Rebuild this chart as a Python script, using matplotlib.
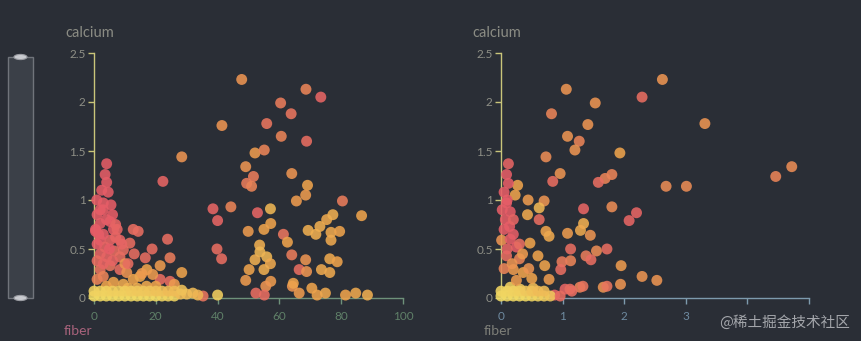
import matplotlib
matplotlib.use("Agg")
import matplotlib.pyplot as plt
from matplotlib.colors import LinearSegmentedColormap
from matplotlib.patches import Rectangle, Circle

# ---------------- data (fiber, calcium, colour tone 0=yellow .. 1=red) -------------
left_fiber = [
    47.8, 68.6, 73.4, 60.4, 63.8, 41.4, 55.9, 60.6, 68.8, 28.4, 52.1, 55.1, 49.1, 64.0,
    51.6, 49.4, 51.0, 69.1, 22.3, 68.5, 65.5, 80.4, 86.6, 38.5, 44.3, 57.1, 52.9, 40.0,
    57.2, 55.0, 49.9, 61.3, 62.6, 69.3, 73.1, 75.3, 77.3, 76.7, 79.5, 76.7, 71.8, 53.6,
    53.7, 55.9, 52.1, 57.1, 55.0, 50.2, 49.1, 64.0, 68.5, 76.3, 78.7, 66.4, 68.8, 73.6,
    76.3, 39.8, 41.3, 57.2, 55.6, 52.4, 55.1, 64.2, 66.4, 70.5, 72.2, 74.9, 81.4, 84.7,
    88.5, 40.0, 35.3, 64.5,
    4.1, 3.6, 4.1, 4.6, 0.9, 3.0, 3.0, 2.0, 5.2, 6.3, 2.0, 5.2, 8.4, 11.6, 12.7, 14.3,
    2.0, 4.1, 9.5, 8.4, 23.8, 18.8, 16.6, 24.6, 21.4, 17.1, 28.4, 2.0, 5.2, 8.4, 10.6,
    12.7, 14.9, 21.4, 24.6, 1.0, 6.3, 9.5, 1.0, 1.5, 3.5, 6.5, 1.0, 3.0, 17.0, 20.0,
    26.0, 4.0, 11.0, 14.0, 2.5, 7.0, 5.5, 0.5, 10.0,
    1.0, 3.0, 5.0, 7.0, 4.0, 6.0, 2.0, 0.5, 3.0, 6.0, 9.0, 13.0, 11.0, 7.5, 15.5, 19.0,
    0.0, 2.0, 4.0, 6.0, 8.0, 10.0, 12.0, 14.0, 16.0, 18.0, 20.0, 22.0, 24.0, 26.0,
    0.0, 2.0, 4.0, 6.0, 8.0, 10.0, 12.0, 14.0, 16.0, 18.0, 20.0, 22.0, 24.0, 26.0,
    28.0, 30.0, 32.0, 33.6, 28.4,
]
left_calcium = [
    2.23, 2.13, 2.05, 1.99, 1.88, 1.76, 1.78, 1.65, 1.60, 1.44, 1.48, 1.51, 1.34, 1.27,
    1.24, 1.17, 1.14, 1.15, 1.19, 1.05, 0.99, 0.99, 0.84, 0.91, 0.93, 0.91, 0.87, 0.79,
    0.76, 0.70, 0.68, 0.65, 0.57, 0.69, 0.73, 0.80, 0.85, 0.67, 0.68, 0.59, 0.65, 0.54,
    0.47, 0.42, 0.39, 0.35, 0.29, 0.29, 0.18, 0.44, 0.39, 0.40, 0.37, 0.29, 0.27, 0.29,
    0.26, 0.50, 0.40, 0.17, 0.12, 0.05, 0.03, 0.12, 0.05, 0.10, 0.03, 0.05, 0.03, 0.05,
    0.03, 0.03, 0.02, 0.15,
    1.37, 1.26, 1.18, 1.08, 1.00, 0.97, 0.90, 0.76, 0.78, 0.70, 0.59, 0.59, 0.59, 0.56,
    0.70, 0.68, 0.45, 0.42, 0.49, 0.42, 0.60, 0.50, 0.41, 0.41, 0.33, 0.29, 0.26, 0.29,
    0.33, 0.29, 0.26, 0.19, 0.22, 0.19, 0.17, 0.19, 0.16, 0.14, 0.85, 0.65, 0.52, 0.48,
    0.38, 0.22, 0.12, 0.12, 0.14, 0.12, 0.10, 0.10, 1.10, 0.75, 0.95, 0.68, 0.35,
    0.55, 0.65, 0.50, 0.62, 0.80, 0.85, 0.90, 0.70, 0.35, 0.38, 0.55, 0.45, 0.35, 0.70,
    0.25, 0.24,
    0.02, 0.02, 0.02, 0.02, 0.02, 0.02, 0.02, 0.02, 0.02, 0.02, 0.02, 0.02, 0.02, 0.02,
    0.07, 0.07, 0.07, 0.07, 0.07, 0.07, 0.07, 0.07, 0.07, 0.07, 0.07, 0.07, 0.07, 0.07,
    0.04, 0.04, 0.05, 0.03, 0.08,
]
left_tone = [
    0.6, 0.7, 0.9, 0.75, 0.8, 0.6, 0.8, 0.7, 0.85, 0.6, 0.55, 0.7, 0.6, 0.6,
    0.75, 0.75, 0.7, 0.5, 0.9, 0.55, 0.55, 0.75, 0.5, 0.9, 0.7, 0.35, 0.9, 0.9,
    0.5, 0.5, 0.55, 0.8, 0.5, 0.4, 0.4, 0.45, 0.4, 0.45, 0.5, 0.45, 0.4, 0.4,
    0.35, 0.35, 0.4, 0.45, 0.4, 0.5, 0.55, 0.75, 0.6, 0.45, 0.5, 0.85, 0.6, 0.45,
    0.45, 0.85, 0.85, 0.55, 0.6, 0.85, 0.85, 0.6, 0.55, 0.5, 0.5, 0.45, 0.5, 0.45,
    0.4, 0.15, 0.8, 0.5,
    0.95, 0.95, 0.95, 0.95, 0.95, 0.95, 0.95, 0.95, 0.95, 0.95, 0.95, 0.9, 0.9, 0.85,
    0.85, 0.85, 0.9, 0.9, 0.85, 0.85, 0.85, 0.85, 0.85, 0.75, 0.55, 0.5, 0.5, 0.8,
    0.8, 0.85, 0.6, 0.5, 0.45, 0.85, 0.85, 0.7, 0.5, 0.45, 0.95, 0.95, 0.9, 0.85,
    0.85, 0.7, 0.45, 0.5, 0.55, 0.5, 0.4, 0.4, 0.95, 0.9, 0.95, 0.95, 0.6,
    0.95, 0.95, 0.95, 0.9, 0.95, 0.95, 0.95, 0.95, 0.9, 0.9, 0.9, 0.85, 0.85, 0.9,
    0.55, 0.55,
    0.05, 0.05, 0.05, 0.05, 0.05, 0.05, 0.05, 0.05, 0.05, 0.05, 0.05, 0.08, 0.1, 0.1,
    0.12, 0.12, 0.12, 0.15, 0.15, 0.15, 0.18, 0.2, 0.2, 0.22, 0.25, 0.25, 0.3, 0.3,
    0.3, 0.3, 0.3, 0.35, 0.25,
]

right_fiber = [
    2.62, 1.06, 2.29, 1.53, 0.82, 1.41, 3.31, 1.08, 1.27, 1.20, 1.93, 0.73, 0.12, 4.72,
    4.46, 0.96, 0.84, 1.80, 1.69, 1.58, 2.68, 3.01, 0.27, 0.23, 0.44, 0.70, 0.62, 1.34,
    1.80, 2.20, 2.08, 0.43, 0.62, 1.34, 1.29, 1.45, 1.08, 0.73, 0.78, 0.01, 0.14, 0.25,
    0.47, 1.13, 1.55, 1.72, 1.38, 1.46, 1.13, 0.99, 1.95, 2.29, 2.53, 1.94, 1.66, 1.28,
    1.04, 1.15, 0.97, 0.78, 0.71, 0.60, 0.36, 0.20, 0.09, 0.15, 0.31, 0.52, 0.87, 0.09,
    0.12, 0.09, 0.07, 0.15, 0.05, 0.20, 0.10, 0.30, 0.45, 0.05, 0.25, 0.50,
    0.05, 0.15, 0.20, 0.02, 0.10, 0.30, 0.18, 0.35,
    0.00, 0.10, 0.20, 0.30, 0.40, 0.50, 0.60, 0.70, 0.80,
    0.00, 0.10, 0.20, 0.30, 0.40, 0.50, 0.60, 0.70,
    0.96, 1.12, 1.33, 1.72,
]
right_calcium = [
    2.23, 2.13, 2.05, 1.99, 1.88, 1.77, 1.78, 1.65, 1.60, 1.51, 1.48, 1.44, 1.37, 1.34,
    1.24, 1.27, 1.19, 1.26, 1.22, 1.18, 1.14, 1.14, 1.15, 1.05, 1.00, 0.99, 0.92, 0.91,
    0.93, 0.87, 0.79, 0.85, 0.80, 0.76, 0.69, 0.64, 0.66, 0.68, 0.63, 0.59, 0.73, 0.52,
    0.56, 0.50, 0.48, 0.50, 0.43, 0.39, 0.38, 0.37, 0.33, 0.22, 0.18, 0.14, 0.11, 0.11,
    0.09, 0.07, 0.29, 0.19, 0.33, 0.43, 0.26, 0.29, 0.43, 0.11, 0.09, 0.10, 0.03, 1.26,
    1.17, 0.97, 0.80, 0.88, 1.08, 0.65, 0.50, 0.40, 0.30, 0.30, 0.18, 0.20,
    0.70, 0.60, 0.80, 0.90, 1.00, 0.55, 0.35, 0.45,
    0.02, 0.02, 0.02, 0.02, 0.02, 0.02, 0.02, 0.02, 0.02,
    0.07, 0.07, 0.07, 0.07, 0.07, 0.07, 0.07, 0.07,
    0.02, 0.09, 0.12, 0.12,
]
right_tone = [
    0.6, 0.6, 0.85, 0.6, 0.7, 0.6, 0.6, 0.6, 0.7, 0.6, 0.5, 0.65, 0.9, 0.65,
    0.7, 0.6, 0.85, 0.7, 0.7, 0.85, 0.65, 0.65, 0.5, 0.5, 0.55, 0.6, 0.35, 0.9,
    0.65, 0.9, 0.9, 0.45, 0.85, 0.4, 0.45, 0.6, 0.55, 0.5, 0.45, 0.6, 0.95, 0.95,
    0.5, 0.85, 0.65, 0.85, 0.75, 0.85, 0.7, 0.75, 0.55, 0.6, 0.6, 0.6, 0.6, 0.7,
    0.9, 0.85, 0.85, 0.55, 0.5, 0.5, 0.5, 0.55, 0.85, 0.15, 0.2, 0.3, 0.9, 0.95,
    0.95, 0.95, 0.95, 0.95, 0.95, 0.95, 0.9, 0.7, 0.6, 0.7, 0.55, 0.5,
    0.95, 0.95, 0.9, 0.95, 0.95, 0.85, 0.6, 0.55,
    0.05, 0.05, 0.05, 0.05, 0.05, 0.08, 0.1, 0.15, 0.2,
    0.1, 0.1, 0.12, 0.15, 0.2, 0.25, 0.3, 0.3,
    0.85, 0.85, 0.8, 0.8,
]

left_xticks = [0, 20, 40, 60, 80, 100]
left_xtick_labels = ["0", "20", "40", "60", "80", "100"]
right_xticks = [0, 1, 2, 3, 4, 5]
right_xtick_labels = ["0", "1", "2", "3", "", ""]   # 4 and 5 hidden under the watermark
yticks = [0, 0.5, 1, 1.5, 2, 2.5]
ytick_labels = ["0", "0.5", "1", "1.5", "2", "2.5"]

# ---------------- style -------------------------------------------------------------
BG = "#2a2e36"
cmap = LinearSegmentedColormap.from_list(
    "ylrd", ["#f2e166", "#eea34c", "#e5566a"])
plt.rcParams['font.family'] = ['Lato', 'DejaVu Sans']

fig = plt.figure(figsize=(8.61, 3.41), dpi=100, facecolor=BG)
W, H = 861, 341


def make_axes(x0, x1, y_top, y_bot):
    return fig.add_axes([x0 / W, 1 - y_bot / H, (x1 - x0) / W, (y_bot - y_top) / H])


def style(ax, xmax, xticks, xlabels, xcolor, xtick_color):
    ax.set_facecolor("none")
    ax.set_xlim(0, xmax)
    ax.set_ylim(0, 2.5)
    for s in ["top", "right"]:
        ax.spines[s].set_visible(False)
    ax.spines["left"].set_color("#c9c57a")
    ax.spines["bottom"].set_color(xcolor)
    ax.spines["left"].set_linewidth(1.0)
    ax.spines["bottom"].set_linewidth(1.0)
    ax.set_yticks(yticks)
    ax.set_yticklabels(ytick_labels)
    ax.set_xticks(xticks)
    ax.set_xticklabels(xlabels)
    ax.tick_params(axis="y", colors="#c9c57a", labelcolor="#8e8f86", length=4,
                   width=1, labelsize=8.5, pad=2)
    ax.tick_params(axis="x", colors=xcolor, labelcolor=xtick_color, length=4,
                   width=1, labelsize=8.5, pad=5)
    ax.set_zorder(1)


# left panel
axL = make_axes(94, 403, 53, 298)
style(axL, 100, left_xticks, left_xtick_labels, "#6e917a", "#5f8068")
axL.scatter(left_fiber, left_calcium, c=left_tone, cmap=cmap, vmin=0, vmax=1,
            s=62, alpha=0.88, linewidths=0, clip_on=False, zorder=3)

# right panel
axR = make_axes(501, 809, 53, 298)
style(axR, 5, right_xticks, right_xtick_labels, "#7d9aad", "#6e8aa0")
axR.scatter(right_fiber, right_calcium, c=right_tone, cmap=cmap, vmin=0, vmax=1,
            s=62, alpha=0.88, linewidths=0, clip_on=False, zorder=3)

# axis names
fig.text(65 / W, 1 - 33 / H, "calcium", color="#8b8c84", fontsize=10.5, va="center")
fig.text(472 / W, 1 - 33 / H, "calcium", color="#8b8c84", fontsize=10.5, va="center")
fig.text(64 / W, 1 - 331 / H, "fiber", color="#a8637c", fontsize=10, va="center")
fig.text(484 / W, 1 - 331 / H, "fiber", color="#7d7e78", fontsize=10, va="center")

# vertical slider on the left
fig.patches.append(Rectangle((8 / W, 1 - 298 / H), 25 / W, 241 / H,
                             transform=fig.transFigure, facecolor="#3b4048",
                             edgecolor="#70747b", linewidth=1.0, zorder=0))
for yy in (57, 298):
    fig.patches.append(Circle((20.5 / W, 1 - yy / H), 6.5 / W,
                              transform=fig.transFigure, facecolor="#c9cbd0",
                              edgecolor="#9a9ca2", linewidth=0.8, zorder=1))

# watermark
fig.text(850 / W, 1 - 322 / H, "@稀土掘金技术社区", color="#c2c4c8", alpha=0.8,
         fontsize=10.5, ha="right", va="center",
         family=["Noto Sans CJK SC", "DejaVu Sans"])

fig.savefig("out.png", dpi=100, facecolor=BG)
